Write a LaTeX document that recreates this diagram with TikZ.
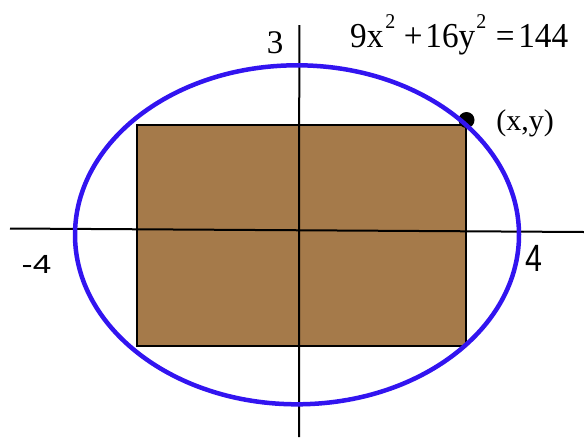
\documentclass[tikz,border=0pt]{standalone}
\usepackage{fontspec}
\setmainfont{Liberation Serif}
\newfontfamily\arialfont{Liberation Sans}
\definecolor{ellblue}{RGB}{50,20,240}
\definecolor{boxbrown}{RGB}{165,122,74}
\newcommand{\supnum}[1]{\raisebox{19pt}{\fontsize{21}{21}\selectfont #1}}
\begin{document}
\begin{tikzpicture}[x=1pt,y=-1pt,
  axis/.style={draw=black,line width=2pt},
  serifbig/.style={inner sep=0pt,font=\fontsize{33}{33}\selectfont},
  sanslabel/.style={inner sep=0pt}]
\useasboundingbox (0,0) rectangle (584,437);
\fill[white] (0,0) rectangle (584,437);
% rectangle
\node[draw=black,line width=2pt,fill=boxbrown,minimum width=329pt,minimum height=220.5pt,inner sep=0pt,anchor=north west] (box) at (136,124) {};
% axes
\coordinate (xl) at (10,228.5);
\coordinate (xr) at (584,232);
\coordinate (yt) at (299.3,25);
\coordinate (yb) at (299,437);
\draw[axis] (xl) -- (xr);
\draw[axis] (yt) -- (yb);
% point
\node[circle,fill=black,minimum size=16pt,inner sep=0pt] (pt) at (466.5,120) {};
% ellipse
\draw[ellblue,line width=4.5pt] (297,234.8) ellipse [x radius=222, y radius=169.5];
% labels
\node[serifbig] (three) at (275,42.5) {3};
\node[sanslabel] (mfour) at (36.5,264) {\scalebox{1.33}[1.05]{\arialfont\fontsize{25}{25}\selectfont -4}};
\node[sanslabel] (four) at (533.5,258.5) {\scalebox{0.8}[1]{\arialfont\fontsize{38}{38}\selectfont 4}};
\node[inner sep=0pt,font=\fontsize{30}{30}\selectfont] (xy) at (525,123.5) {(x,y)};
\node[inner sep=0pt,anchor=base west] (eq) at (350,47) {\scalebox{0.95}[1]{\fontsize{35}{35}\selectfont 9x\hspace{2pt}\supnum{2}\hspace{9pt}+\hspace{3pt}16y\hspace{1pt}\supnum{2}\hspace{10pt}=\hspace{4pt}144}};
\end{tikzpicture}
\end{document}
